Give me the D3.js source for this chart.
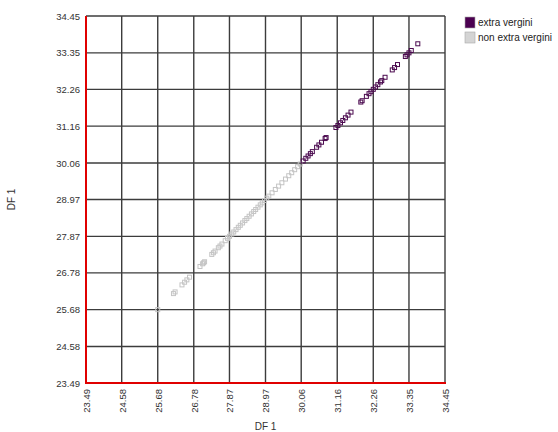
<!DOCTYPE html>
<html>
<head>
<meta charset="utf-8">
<script src="https://cdn.jsdelivr.net/npm/d3@7/dist/d3.min.js"></script>
<style>
  body { margin: 0; background: #fff; }
  svg { display: block; font-family: "Liberation Sans", Arial, sans-serif; }
</style>
</head>
<body>
<svg id="chart" width="558" height="432"></svg>
<script>
// DF 1 scores per sample (plotted against themselves)
const extraVergini = [
  30.12, 30.20, 30.27, 30.34, 30.40, 30.53, 30.60, 30.68, 30.79, 30.82,
  31.12, 31.18, 31.26, 31.33, 31.41, 31.49, 31.58, 31.88, 31.92, 32.05,
  32.13, 32.19, 32.26, 32.33, 32.40, 32.48, 32.52, 32.62, 32.84, 32.91,
  33.00, 33.24, 33.29, 33.35, 33.42, 33.62
];
const nonExtraVergini = [
  25.68, 26.16, 26.21, 26.42, 26.50, 26.57, 26.65, 26.97, 27.05, 27.08,
  27.11, 27.33, 27.38, 27.43, 27.53, 27.58, 27.64, 27.74, 27.81, 27.87,
  27.94, 28.00, 28.07, 28.14, 28.20, 28.27, 28.34, 28.40, 28.47, 28.54,
  28.61, 28.67, 28.74, 28.81, 28.87, 28.94, 29.01, 29.07, 29.17, 29.27,
  29.37, 29.47, 29.58, 29.68, 29.77, 29.86, 29.95, 30.03
];
const tickLabels = ["23.49", "24.58", "25.68", "26.78", "27.87", "28.97",
                    "30.06", "31.16", "32.26", "33.35", "34.45"];
const seriesNames = ["extra vergini", "non extra vergini"];
const seriesColors = ["#4b0a4f", "#c4c4c4"];
const swatchColors = ["#4b0050", "#d4d4d4"];

const svg = d3.select("#chart");
const plot = { left: 86, right: 445, top: 16, bottom: 383 };
const ticks = tickLabels.map(Number);

const x = d3.scaleLinear().domain([ticks[0], ticks[ticks.length - 1]]).range([plot.left, plot.right]);
const y = d3.scaleLinear().domain([ticks[0], ticks[ticks.length - 1]]).range([plot.bottom, plot.top]);

// grid lines
const grid = svg.append("g").attr("stroke", "#3c3c3c").attr("stroke-width", 1.4);
grid.selectAll(".gv").data(ticks).join("line")
  .attr("x1", d => x(d)).attr("x2", d => x(d))
  .attr("y1", plot.top).attr("y2", plot.bottom);
grid.selectAll(".gh").data(ticks).join("line")
  .attr("x1", plot.left).attr("x2", plot.right)
  .attr("y1", d => y(d)).attr("y2", d => y(d));

// red axis lines
svg.append("line").attr("x1", plot.left).attr("x2", plot.left)
  .attr("y1", plot.top).attr("y2", plot.bottom + 1)
  .attr("stroke", "#e00000").attr("stroke-width", 2);
svg.append("line").attr("x1", plot.left - 1).attr("x2", plot.right + 1)
  .attr("y1", plot.bottom).attr("y2", plot.bottom)
  .attr("stroke", "#e00000").attr("stroke-width", 2);

// y tick labels
const yAxis = d3.axisLeft(y).tickValues(ticks).tickSize(0).tickPadding(6)
  .tickFormat((d, i) => tickLabels[i]);
const yg = svg.append("g").attr("transform", `translate(${plot.left},0)`).call(yAxis);
yg.select(".domain").remove();
yg.selectAll("text").attr("font-size", 9.5).attr("fill", "#333")
  .attr("font-family", "Liberation Sans, Arial, sans-serif");

// x tick labels, rotated
const xAxis = d3.axisBottom(x).tickValues(ticks).tickSize(0)
  .tickFormat((d, i) => tickLabels[i]);
const xg = svg.append("g").attr("transform", `translate(0,${plot.bottom})`).call(xAxis);
xg.select(".domain").remove();
xg.selectAll("text")
  .attr("font-size", 9.5).attr("fill", "#333")
  .attr("font-family", "Liberation Sans, Arial, sans-serif")
  .attr("transform", "rotate(-90)")
  .attr("text-anchor", "end")
  .attr("dy", "0.35em")
  .attr("x", -6).attr("y", 0);

// axis titles
svg.append("text").attr("x", (plot.left + plot.right) / 2).attr("y", 430)
  .attr("text-anchor", "middle").attr("font-size", 10).attr("fill", "#333").text("DF 1");
svg.append("text").attr("transform", `translate(15,${(plot.top + plot.bottom) / 2}) rotate(-90)`)
  .attr("text-anchor", "middle").attr("font-size", 10).attr("fill", "#333").text("DF 1");

// points
const size = 4;
function drawSeries(data, color) {
  svg.append("g").selectAll("rect").data(data).join("rect")
    .attr("x", d => x(d) - size / 2).attr("y", d => y(d) - size / 2)
    .attr("width", size).attr("height", size)
    .attr("fill", "none").attr("stroke", color).attr("stroke-width", 1);
}
drawSeries(nonExtraVergini, seriesColors[1]);
drawSeries(extraVergini, seriesColors[0]);

// legend
const legend = svg.append("g").attr("transform", "translate(465,17)");
seriesNames.forEach((name, i) => {
  const g = legend.append("g").attr("transform", `translate(0,${i * 15})`);
  g.append("rect").attr("x", 0).attr("y", 0).attr("width", 10).attr("height", 11)
    .attr("fill", swatchColors[i]).attr("stroke", "#a8a8a8").attr("stroke-width", 0.6);
  g.append("text").attr("x", 13).attr("y", 9).attr("font-size", 10).attr("fill", "#222").text(name);
});
</script>
</body>
</html>
